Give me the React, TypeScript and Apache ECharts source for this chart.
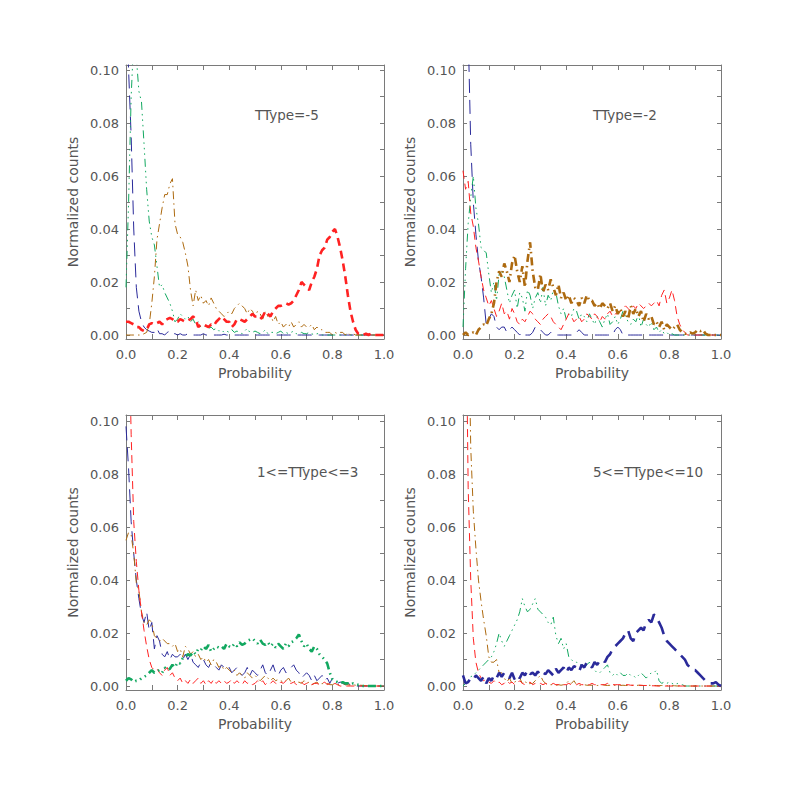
import React, { useEffect, useRef } from "react";
import * as echarts from "echarts";

// Bin positions (Probability)
const PROBABILITY = [
  0.0, 0.01, 0.02, 0.03, 0.04, 0.05, 0.06, 0.07, 0.08, 0.09,
  0.1, 0.11, 0.12, 0.13, 0.14, 0.15, 0.16, 0.17, 0.18, 0.19,
  0.2, 0.21, 0.22, 0.23, 0.24, 0.25, 0.26, 0.27, 0.28, 0.29,
  0.3, 0.31, 0.32, 0.33, 0.34, 0.35, 0.36, 0.37, 0.38, 0.39,
  0.4, 0.41, 0.42, 0.43, 0.44, 0.45, 0.46, 0.47, 0.48, 0.49,
  0.5, 0.51, 0.52, 0.53, 0.54, 0.55, 0.56, 0.57, 0.58, 0.59,
  0.6, 0.61, 0.62, 0.63, 0.64, 0.65, 0.66, 0.67, 0.68, 0.69,
  0.7, 0.71, 0.72, 0.73, 0.74, 0.75, 0.76, 0.77, 0.78, 0.79,
  0.8, 0.81, 0.82, 0.83, 0.84, 0.85, 0.86, 0.87, 0.88, 0.89,
  0.9, 0.91, 0.92, 0.93, 0.94, 0.95, 0.96, 0.97, 0.98, 0.99,
  1.0,
];

const PANEL_TITLES = ["TType=-5", "TType=-2", "1<=TType<=3", "5<=TType<=10"];

// Normalized counts, in units of 0.001
// Panel 1: TType=-5
const P1_BLUE = [
  130, 100, 75, 40, 18, 9, 5, 3, 2, 1.5,
  1, 1, 2.5, 0.5, 0.5, 0, 1, 1.5, 0.5, 0.5,
  0, 0.5, 0, 0, 0.5, 0, 0, 0, 0, 0,
  0.5, 0, 0, 0, 0, 0, 0, 0, 0.3, 0,
  0, 0, 0, 0, 0, 0, 0, 0, 0, 0,
  0, 0, 0, 0, 0, 0, 0, 0, 0, 0,
  0, 0, 0, 0, 0, 0, 0, 0, 0, 0,
  0, 0, 0, 0, 0, 0, 0, 0, 0, 0,
  0, 0, 0, 0, 0, 0, 0, 0, 0, 0,
  0, 0, 0, 0, 0, 0, 0, 0, 0, 0,
  0,
];
const P1_GREEN = [
  18, 50, 90, 112, 105, 92, 88, 72, 55, 43,
  37, 34, 26, 18, 19, 16, 14, 12, 9, 5,
  6, 8, 7, 6, 7, 5, 6, 4, 5, 3,
  3, 3.5, 2.5, 3, 2, 2.5, 1.5, 2, 1, 1.5,
  1, 2, 1, 1.5, 1, 0.5, 1.5, 2.5, 1, 1,
  1.5, 1, 0.5, 1, 2, 0.5, 1, 1, 0.5, 1,
  1.5, 0.5, 1, 0.5, 1, 1.5, 0.5, 0.5, 1, 0.5,
  0.5, 1, 0.5, 0, 0.5, 0.5, 0, 0, 0, 0,
  0, 0, 0, 0, 0, 0, 0, 0, 0, 0,
  0, 0, 0, 0, 0, 0, 0, 0, 0, 0,
  0,
];
const P1_BROWN = [
  0, 0, 0, 0, 0, 0, 0, 0.5, 1, 4,
  12, 22, 36, 42, 48, 53, 53, 57, 59, 42,
  38, 37, 35, 31, 26, 17, 11, 17, 13, 15,
  12, 13, 11, 14, 12, 10, 9, 8, 7, 8,
  9, 8, 10, 11, 12, 11, 10, 8, 10, 9,
  7, 9, 8, 6, 9, 7, 8, 5, 7, 4,
  5, 3, 4, 3, 5, 3, 4, 5, 3, 4,
  3, 3, 4, 2, 3, 2, 2, 1, 1, 1,
  0, 1, 0.5, 1, 1, 0, 1, 0, 0.5, 0,
  0, 0, 0, 0, 0, 0, 0, 0, 0, 0,
  0,
];
const P1_RED = [
  5, 5, 4.5, 4, 3, 3, 2, 1.5, 2, 4,
  4.5, 4, 4.5, 5, 4, 5.5, 6, 6.5, 6, 5,
  5, 6, 5.5, 5, 5.5, 6, 7, 6, 3, 4,
  4, 3.5, 3, 4, 3.5, 5, 6, 7, 6, 5,
  5, 3, 4, 6, 6, 5.5, 5, 6, 7, 8,
  7, 7, 6, 7, 9, 8, 7, 9, 10, 11,
  11, 11.5, 12, 11.5, 12, 13, 15, 17, 20, 19,
  18, 17, 20, 22, 25, 30, 32, 33, 36, 37,
  39, 40, 37, 33, 28, 22, 15, 9, 5, 2,
  0.5, 0, 0, 0.5, 0, 0.5, 0, 0, 0, 0,
  0,
];

// Panel 2: TType=-2
const P2_BLUE = [
  160, 140, 115, 72, 50, 38, 28, 22, 14, 4,
  6, 8, 7, 3, 2, 3, 3, 1, 2, 3,
  2, 1, 0, 1, 0, 0, 0, 1, 3, 3,
  2, 1, 0, 0, 1, 0, 0, 0, 0, 0,
  0, 0, 0, 0, 1, 2, 1, 0, 0, 0,
  0, 0, 0, 0, 0, 0, 0, 0, 0, 2,
  3, 2, 0, 0, 0, 0, 0, 0, 0, 0,
  0, 0, 0, 0, 0, 0, 0, 0, 0, 0,
  0, 0, 0, 0, 0, 0, 0, 0, 0, 0,
  0, 0, 0, 0, 0, 0, 0, 0, 0, 0,
  0,
];
const P2_GREEN = [
  3, 25, 42, 52, 60, 48, 42, 33, 32, 31,
  23, 16, 20, 13, 23, 24, 22, 17, 12, 15,
  17, 10, 16, 14, 9, 17, 15, 10, 14, 16,
  12, 18, 11, 15, 13, 17, 16, 11, 8, 10,
  6, 8, 7, 10, 9, 6, 8, 7, 5, 8,
  6, 4, 7, 5, 3, 6, 8, 4, 5, 7,
  4, 6, 9, 7, 5, 4, 6, 5, 8, 3,
  6, 4, 3, 5, 2, 3, 1, 2, 0.5, 1,
  0, 0.5, 0, 0, 0, 0, 0, 0, 0, 0,
  0, 0, 0, 0, 0, 0, 0, 0, 0, 0,
  0,
];
const P2_BROWN = [
  0, 1, 0, 0.5, 1, 0, 2, 3, 4, 3.5,
  6, 8, 12, 20, 24, 22, 27, 24, 20, 27,
  30, 24, 20, 26, 18, 28, 35, 24, 18, 17,
  23, 16, 19, 17, 21, 18, 15, 19, 14, 16,
  13, 15, 12, 14, 13, 11, 14, 12, 15, 13,
  13, 11, 12, 10, 12, 11, 10, 12, 9, 11,
  8, 10, 7, 9, 6, 11, 8, 10, 7, 9,
  5, 8, 6, 7, 4, 5, 3, 5, 2, 4,
  3, 2, 3, 4, 2, 1, 0.5, 0.5, 1, 0.5,
  1, 2, 1.5, 2, 0.5, 0, 0, 0, 0, 0,
  0,
];
const P2_RED = [
  62, 55, 58, 46, 41, 33, 28, 22, 17, 14,
  11, 13, 10, 7, 9, 12, 8, 9, 6, 10,
  8, 5, 4, 6, 5, 7, 9, 8, 6, 5,
  4, 6, 7, 8, 7, 5, 4, 3, 2, 4,
  6, 8, 7, 5, 6, 7, 5, 6, 8, 7,
  6, 8, 7, 5, 7, 6, 8, 9, 7, 8,
  8, 9, 10, 11, 10, 9, 11, 10, 12, 11,
  10, 11, 12, 11, 12, 13, 11, 15, 17, 12,
  14, 17, 13, 7, 4, 2, 1, 0, 0, 0,
  0, 0, 0, 0, 0, 0, 0, 0, 0, 0,
  0,
];

// Panel 3: 1<=TType<=3
const P3_BLUE = [
  98, 82, 62, 50, 40, 33, 27, 24, 28, 21,
  24, 14, 19, 17, 12, 11, 13, 10, 12, 11,
  11, 12, 10, 12, 10, 12, 9, 8, 7, 9,
  10, 8, 7, 9, 8, 7, 6, 8, 7, 6,
  7, 5, 6, 7, 5, 4, 5, 7, 4, 6,
  5, 4, 6, 8, 5, 4, 6, 8, 5, 4,
  6, 7, 5, 6, 7, 8, 6, 5, 3, 4,
  5, 4, 2, 4, 2, 3, 4, 2, 3, 1,
  3, 2, 1, 1.5, 1, 0.5, 1, 0.5, 0.5, 0,
  0, 0, 0, 0, 0, 0, 0, 0, 0, 0,
  0,
];
const P3_GREEN = [
  2, 3, 2.5, 1.5, 2, 2, 3, 3.5, 4, 5,
  6, 5, 5.5, 6, 5, 7, 6, 6.5, 8, 7,
  9, 8.5, 10.5, 11, 12, 11.5, 13, 12, 14, 13.5,
  15, 14, 15.5, 13, 14, 15, 14.5, 15, 14, 16,
  15, 14.5, 16, 15, 16.5, 15.5, 16, 17, 17.5, 18,
  17, 16, 17.5, 16, 15.5, 16.5, 15, 16, 14.5, 16,
  15, 14, 16, 15, 16.5, 17, 18, 19.5, 17, 15,
  16, 14, 13, 15, 14, 12, 11, 10, 8.5, 5,
  2.5, 2, 1.5, 1, 1.5, 1, 1, 0.5, 1, 0.5,
  0.5, 0.3, 0, 0, 0, 0, 0, 0, 0, 0,
  0,
];
const P3_BROWN = [
  55, 58, 57, 50, 39, 36, 28, 24, 23, 25,
  24, 19, 18, 17, 18, 17, 16, 16, 15, 16,
  13, 14, 11, 15, 14, 12, 13, 11, 12, 10,
  11, 9, 10, 8, 10, 9, 7, 8, 6, 7,
  6, 5, 6, 4, 5, 4, 3, 5, 4, 3,
  4, 3, 2, 3, 4, 3, 2, 3, 2, 2.5,
  2, 1.5, 2, 3, 1.5, 2, 1, 1.5, 1, 2,
  1, 1.5, 0.5, 1, 1.5, 0.5, 1, 0.5, 1, 0.5,
  0.5, 1, 0.5, 0.5, 1, 0.5, 0.5, 0.3, 0.5, 0.3,
  0.2, 0.3, 0.2, 0.1, 0.1, 0, 0, 0, 0, 0,
  0,
];
const P3_RED = [
  200, 140, 95, 62, 47, 36, 28, 21, 15, 10,
  7, 6, 6.5, 5, 4, 6, 7, 4, 5, 3,
  2, 3, 1, 2, 1, 2.5, 1, 2, 3, 1,
  2, 0.5, 2, 1, 2.5, 1, 2, 1, 2, 1,
  1.5, 2.5, 1, 2, 1, 0.5, 2, 1, 1.5, 0.5,
  1, 2, 1, 2, 0.5, 1.5, 1, 2, 1, 0.5,
  1.5, 1, 2, 1, 1, 1.5, 0.5, 1, 1.5, 0.5,
  1, 1.5, 0.5, 1, 1, 0.5, 1, 1.5, 0.5, 1,
  0.5, 1, 0.5, 0, 0, 0, 0, 0, 0, 0,
  0, 0, 0, 0, 0, 0, 0, 0, 0, 0,
  0,
];

// Panel 4: 5<=TType<=10
const P4_BLUE = [
  4, 1, 1.5, 3, 2.5, 4, 3, 2, 3.5, 1,
  3, 2, 4, 3, 5, 3.5, 5, 4, 3, 5,
  2.5, 4, 3, 5, 4, 6, 4.5, 5, 4, 5.5,
  4, 5, 4.5, 6, 5, 4, 6.5, 5, 6, 7,
  5, 7, 6, 7.5, 7, 5.5, 8, 7, 9, 8,
  7, 9, 8, 9.5, 10, 9, 11, 12, 14, 15,
  16, 17, 18, 20, 21, 18, 17, 20, 21, 22,
  21, 24, 25, 24, 27, 26, 24, 22, 19, 17,
  16, 15, 14, 13, 12, 11, 10, 8, 7, 6,
  6, 5, 4, 3, 2, 1.5, 1, 1, 1.5, 0.5,
  0,
];
const P4_GREEN = [
  0, 1, 2, 3.5, 4, 5, 6, 7, 8, 9,
  10, 11, 13, 16, 20, 17, 15, 17, 19, 21,
  23, 25, 28, 33, 30, 28, 29, 31, 33, 29,
  28, 27, 26, 24, 23, 26, 19, 16, 18, 14,
  16, 11, 10, 9, 9, 8, 8, 7, 8, 9,
  7, 6, 5, 5, 6, 7, 8, 5, 4, 5,
  4, 5, 4, 4, 5, 4, 4, 3, 4, 5,
  4, 3, 4, 5, 5, 6, 2, 1, 1.5, 1,
  1.5, 1, 0.5, 1, 0.5, 0.5, 0, 0, 0, 0,
  0, 0, 0, 0, 0, 0, 0, 0, 0, 0,
  0,
];
const P4_BROWN = [
  220, 200, 150, 90, 66, 52, 40, 32, 25, 19,
  11, 9, 9, 10, 5, 5, 3, 1.5, 3, 1,
  1.5, 2, 3, 1, 2, 0.5, 1, 1, 2, 3,
  4, 2, 1, 0.5, 0.5, 0.5, 0.3, 0.5, 0.3, 0.5,
  1, 2, 1, 2, 0.5, 0.3, 0.3, 0.5, 0.3, 0.3,
  0.3, 0.3, 0.2, 0.3, 0.5, 0.3, 0.2, 0.3, 0.2, 0.3,
  0.3, 0.2, 0.3, 0.2, 0.2, 0.3, 0.2, 0.2, 0.3, 0.2,
  0.2, 0.2, 0.3, 0.2, 0.2, 0.2, 0.1, 0.2, 0.1, 0.1,
  0.1, 0.1, 0.1, 0, 0.1, 0, 0, 0, 0, 0,
  0, 0, 0, 0, 0, 0, 0, 0, 0, 0,
  0,
];
const P4_RED = [
  200, 160, 75, 40, 18, 9, 5, 3, 2, 2.5,
  1.5, 1, 2, 1, 1.5, 0.5, 1, 2, 1, 1.5,
  0.5, 1, 2, 1, 0.5, 1, 1.5, 0.5, 1, 0.5,
  1, 0.5, 1, 0.5, 0.5, 1, 0.5, 0.5, 1, 0.5,
  0.5, 1, 0.5, 0.5, 0.5, 1, 0.5, 0.5, 0.5, 0.5,
  1, 0.5, 0.5, 0.5, 0.5, 0.5, 1, 0.5, 0.5, 0.5,
  0.5, 0.5, 0.5, 0.5, 0.5, 0.3, 0.3, 0.3, 0.3, 0.3,
  0.2, 0.2, 0.2, 0.1, 0.1, 0, 0, 0, 0, 0,
  0, 0, 0, 0, 0, 0, 0, 0, 0, 0,
  0, 0, 0, 0, 0, 0, 0, 0, 0, 0,
  0,
];

const PANEL_DATA = [
  { blue: P1_BLUE, green: P1_GREEN, brown: P1_BROWN, red: P1_RED, thick: "red" },
  { blue: P2_BLUE, green: P2_GREEN, brown: P2_BROWN, red: P2_RED, thick: "brown" },
  { blue: P3_BLUE, green: P3_GREEN, brown: P3_BROWN, red: P3_RED, thick: "green" },
  { blue: P4_BLUE, green: P4_GREEN, brown: P4_BROWN, red: P4_RED, thick: "blue" },
];

const X_LABELS = [0, 0.2, 0.4, 0.6, 0.8, 1.0];
const X_TICKS = [0, 0.1, 0.2, 0.3, 0.4, 0.5, 0.6, 0.7, 0.8, 0.9, 1.0];
const Y_LABELS = [0, 0.02, 0.04, 0.06, 0.08, 0.1];
const Y_TICKS = [0, 0.01, 0.02, 0.03, 0.04, 0.05, 0.06, 0.07, 0.08, 0.09, 0.1];

// Layout / style (not data)
const LAYOUT = [
  { left: 126, top: 65, width: 258, height: 274, ymin: -0.0015, ymax: 0.1019, tx: 255, ty: 115 },
  { left: 463, top: 65, width: 258, height: 274, ymin: -0.0015, ymax: 0.1019, tx: 593, ty: 115 },
  { left: 126, top: 415, width: 258, height: 275, ymin: -0.0015, ymax: 0.1023, tx: 257, ty: 472 },
  { left: 463, top: 415, width: 258, height: 275, ymin: -0.0015, ymax: 0.1023, tx: 593, ty: 472 },
];

const COLORS: Record<string, string> = {
  blue: "#2a2a9a",
  green: "#12a860",
  brown: "#ad6a10",
  red: "#ff2222",
};
const DASHES: Record<string, number[]> = {
  blue: [14, 7],
  green: [8, 4, 1.5, 4, 1.5, 4, 1.5, 4],
  brown: [8, 4, 1.5, 4],
  red: [8, 5],
};
const ORDER = ["blue", "green", "brown", "red"];

const FONT = "DejaVu Sans";
const TEXT = "#555555";
const AXIS = "#7a7a7a";

export default function App() {
  const ref = useRef<HTMLDivElement>(null);

  useEffect(() => {
    document.body.style.margin = "0";
    if (!ref.current) return;
    const chart = echarts.init(ref.current, null, { renderer: "svg" });

    const grid: any[] = [];
    const xAxis: any[] = [];
    const yAxis: any[] = [];
    const series: any[] = [];
    const graphic: any[] = [];

    LAYOUT.forEach((L, i) => {
      grid.push({ left: L.left, top: L.top, width: L.width, height: L.height, containLabel: false });
      const axLine = { show: true, onZero: false, lineStyle: { color: AXIS, width: 1 } };
      const tickStyle = { color: AXIS, width: 1 };
      // bottom x
      xAxis.push({
        type: "value",
        gridIndex: i,
        min: 0,
        max: 1,
        position: "bottom",
        axisLine: axLine,
        axisTick: { show: true, inside: true, length: 5, customValues: X_TICKS, lineStyle: tickStyle },
        axisLabel: {
          show: true,
          customValues: X_LABELS,
          formatter: (v: number) => v.toFixed(1),
          color: TEXT,
          fontSize: 13,
          fontFamily: FONT,
          margin: 9,
        },
        splitLine: { show: false },
        name: "Probability",
        nameLocation: "middle",
        nameGap: 27,
        nameTextStyle: { color: TEXT, fontSize: 14, fontFamily: FONT },
      });
      // top x
      xAxis.push({
        type: "value",
        gridIndex: i,
        min: 0,
        max: 1,
        position: "top",
        axisLine: axLine,
        axisTick: { show: true, inside: true, length: 5, customValues: X_TICKS, lineStyle: tickStyle },
        axisLabel: { show: false },
        splitLine: { show: false },
      });
      // left y
      yAxis.push({
        type: "value",
        gridIndex: i,
        min: L.ymin,
        max: L.ymax,
        position: "left",
        axisLine: axLine,
        axisTick: { show: true, inside: true, length: 4, customValues: Y_TICKS, lineStyle: tickStyle },
        axisLabel: {
          show: true,
          customValues: Y_LABELS,
          formatter: (v: number) => v.toFixed(2),
          color: TEXT,
          fontSize: 13,
          fontFamily: FONT,
          margin: 7,
        },
        splitLine: { show: false },
        name: "Normalized counts",
        nameLocation: "middle",
        nameGap: 46,
        nameRotate: 90,
        nameTextStyle: { color: TEXT, fontSize: 14, fontFamily: FONT },
      });
      // right y
      yAxis.push({
        type: "value",
        gridIndex: i,
        min: L.ymin,
        max: L.ymax,
        position: "right",
        axisLine: axLine,
        axisTick: { show: true, inside: true, length: 4, customValues: Y_TICKS, lineStyle: tickStyle },
        axisLabel: { show: false },
        splitLine: { show: false },
      });

      const P: any = PANEL_DATA[i];
      ORDER.forEach((k) => {
        const vals: number[] = P[k];
        const thick = P.thick === k;
        series.push({
          type: "line",
          xAxisIndex: i * 2,
          yAxisIndex: i * 2,
          data: PROBABILITY.map((x, j) => [x, vals[j] / 1000]),
          showSymbol: false,
          symbol: "none",
          clip: true,
          silent: true,
          z: thick ? 3 : 2,
          lineStyle: {
            color: COLORS[k],
            width: thick ? 2.6 : 1,
            type: DASHES[k],
          },
        });
      });

      graphic.push({
        type: "text",
        x: L.tx,
        y: L.ty,
        style: {
          text: PANEL_TITLES[i],
          fill: TEXT,
          fontSize: 13.5,
          fontFamily: FONT,
          verticalAlign: "middle",
          align: "left",
        },
      });
    });

    chart.setOption({
      animation: false,
      backgroundColor: "#ffffff",
      grid,
      xAxis,
      yAxis,
      series,
      graphic,
    });

    return () => {
      chart.dispose();
    };
  }, []);

  return <div ref={ref} style={{ width: 786, height: 786 }} />;
}
